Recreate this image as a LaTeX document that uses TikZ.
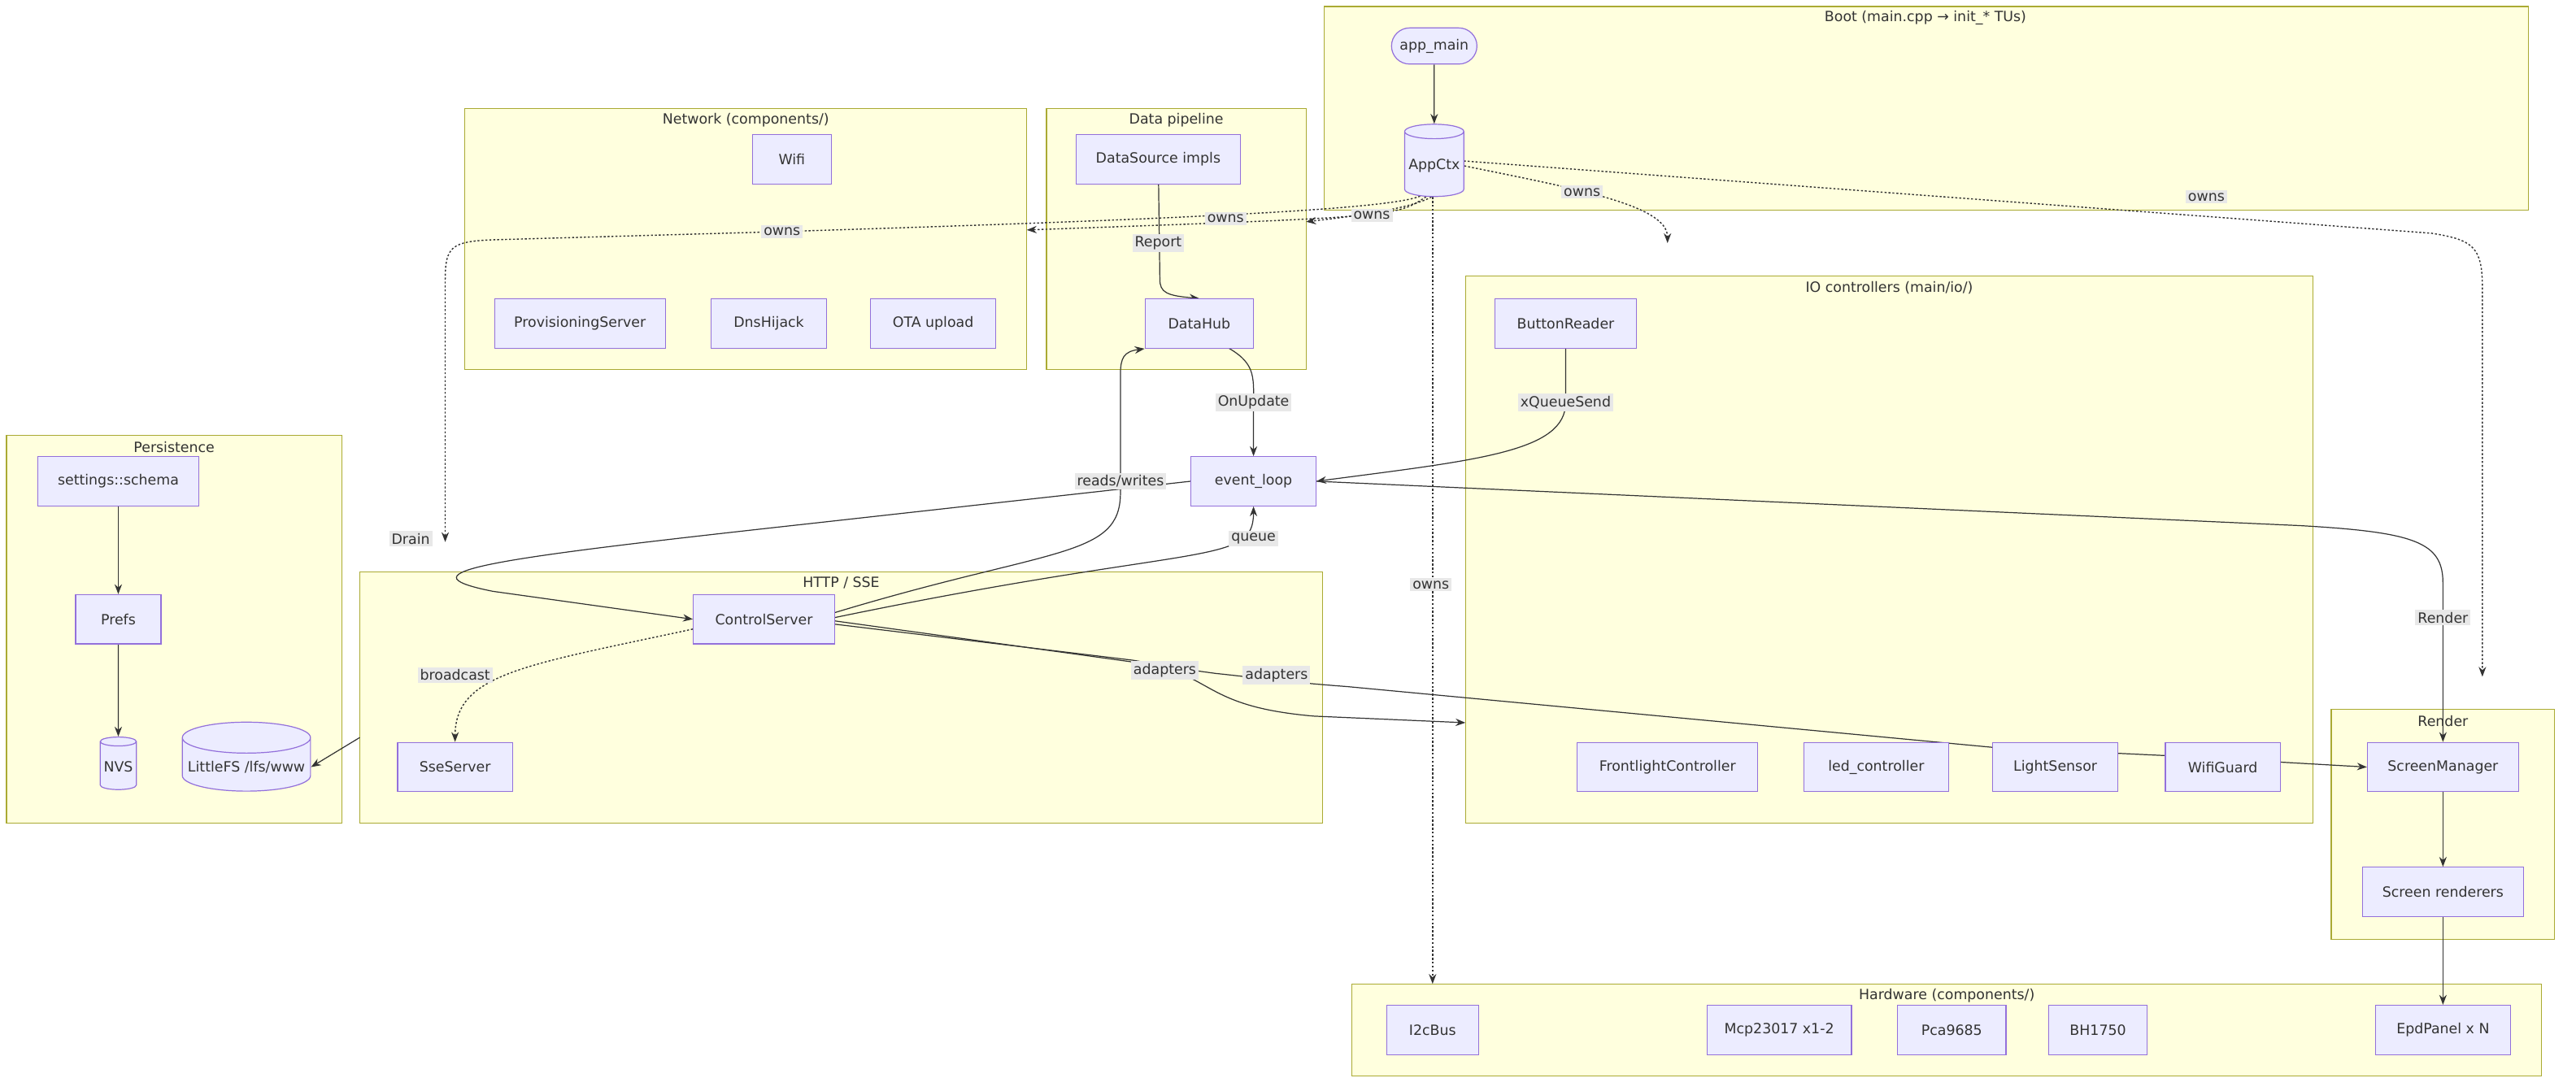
\documentclass[tikz,border=0pt]{standalone}
\usepackage{fontspec}
\setmainfont{DejaVu Sans}
\usetikzlibrary{shapes.geometric,arrows.meta}
\definecolor{nf}{HTML}{ECECFF}\definecolor{nd}{HTML}{9370DB}
\definecolor{cf}{HTML}{FFFFDE}\definecolor{cd}{HTML}{AAAA33}
\definecolor{lc}{HTML}{333333}\definecolor{lb}{HTML}{E8E8E8}
\pgfdeclarelayer{bg}\pgfdeclarelayer{fg}\pgfsetlayers{bg,main,fg}
\begin{document}
\begin{tikzpicture}[x=1pt,y=-1pt,font=\fontsize{8.6}{10}\selectfont,
 nd/.style={draw=nd,fill=nf,line width=0.6pt,minimum height=30pt,inner sep=2pt,text=lc},
 cyl/.style={nd,cylinder,shape border rotate=90,aspect=0.25,minimum height=0pt},
 cl/.style={draw=cd,fill=cf,line width=0.6pt},
 ct/.style={text=lc},
 lab/.style={fill=lb,text=lc,inner sep=1.5pt},
 e/.style={draw=lc,line width=0.6pt,-{Stealth[length=6pt,width=4.5pt]}},
 d/.style={e,dash pattern=on 1.2pt off 1.2pt,line width=0.7pt}]
\useasboundingbox (0,0) rectangle (1568,664);
\begin{pgfonlayer}{bg}
\draw[cl] (806,4) rectangle (1539,128); \node[ct] (tBoot) at (1172,11) {Boot (main.cpp → init\_* TUs)};
\draw[cl] (283,66) rectangle (625,225); \node[ct] (tNet) at (454,73) {Network (components/)};
\draw[cl] (637,66) rectangle (795,225); \node[ct] (tData) at (716,73) {Data pipeline};
\draw[cl] (892,168) rectangle (1408,501); \node[ct] (tIO) at (1150,175) {IO controllers (main/io/)};
\draw[cl] (4,265) rectangle (208,501); \node[ct] (tPer) at (106,272) {Persistence};
\draw[cl] (219,348) rectangle (805,501); \node[ct] (tHttp) at (512,355) {HTTP / SSE};
\draw[cl] (1419,432) rectangle (1555,572); \node[ct] (tRen) at (1487,439) {Render};
\draw[cl] (823,599) rectangle (1547,655); \node[ct] (tHw) at (1185,606) {Hardware (components/)};
\end{pgfonlayer}
\begin{pgfonlayer}{fg}
\node[nd,rounded corners=11pt,minimum height=22pt,minimum width=52pt] (app) at (873,28) {app\_main};
\node[cyl,minimum width=36pt,minimum height=44pt] (ctx) at (873,101) {AppCtx};
\node[nd,minimum width=48pt] (wifi) at (482,97) {Wifi};
\node[nd,minimum width=104pt] (prov) at (353,197) {ProvisioningServer};
\node[nd,minimum width=70pt] (dns) at (468,197) {DnsHijack};
\node[nd,minimum width=76pt] (ota) at (568,197) {OTA upload};
\node[nd,minimum width=100pt] (ds) at (705,97) {DataSource impls};
\node[nd,minimum width=66pt] (hub) at (730,197) {DataHub};
\node[nd,minimum width=86pt] (btn) at (953,197) {ButtonReader};
\node[nd,minimum width=110pt] (fl) at (1015,467) {FrontlightController};
\node[nd,minimum width=88pt] (led) at (1142,467) {led\_controller};
\node[nd,minimum width=76pt] (ls) at (1251,467) {LightSensor};
\node[nd,minimum width=70pt] (wg) at (1353,467) {WifiGuard};
\node[nd,minimum width=76pt] (ev) at (763,293) {event\_loop};
\node[nd,minimum width=98pt] (set) at (72,293) {settings::schema};
\node[nd,minimum width=52pt] (prefs) at (72,377) {Prefs};
\node[cyl,minimum width=22pt,minimum height=32pt] (nvs) at (72,467) {NVS};
\node[cyl,minimum width=78pt,minimum height=42pt] (lfs) at (150,467) {LittleFS /lfs/www};
\node[nd,minimum width=86pt] (cs) at (465,377) {ControlServer};
\node[nd,minimum width=70pt] (sse) at (277,467) {SseServer};
\node[nd,minimum width=92pt] (sm) at (1487,467) {ScreenManager};
\node[nd,minimum width=98pt] (sr) at (1487,543) {Screen renderers};
\node[nd,minimum width=56pt] (i2c) at (872,627) {I2cBus};
\node[nd,minimum width=88pt] (mcp) at (1083,627) {Mcp23017 x1-2};
\node[nd,minimum width=66pt] (pca) at (1188,627) {Pca9685};
\node[nd,minimum width=60pt] (bh) at (1277,627) {BH1750};
\node[nd,minimum width=82pt] (epd) at (1487,627) {EpdPanel x N};
\end{pgfonlayer}
\coordinate (netE) at (625,140); \coordinate (dataE) at (795,135);
\coordinate (httpT) at (271,330); \coordinate (ioT) at (1015,148);
\coordinate (renT) at (1511,412); \coordinate (ioW) at (892,440);
\coordinate (httpW) at (219,449);
% edges
\draw[e] (app) -- (ctx);
\draw[d] (ctx.255) .. controls (850,132) .. (netE);
\draw[d] (ctx.265) .. controls (862,125) and (840,130) .. (dataE);
\draw[d] (ctx.245) .. controls (845,128) and (700,134) .. (476,141) -- (300,146) .. controls (275,147) and (271,150) .. (271,170) -- (httpT);
\draw[d] (ctx.east) .. controls (960,115) and (1015,125) .. (ioT);
\draw[d] (891,98) -- (1480,142) .. controls (1505,146) and (1511,150) .. (1511,175) -- (renT);
\draw[d] (ctx.south) ++(-1,0) -- (872,599);
\draw[e] (ds) -- (706,170) .. controls (706,178) and (710,180) .. (hub.north);
\draw[e] (748,212) .. controls (765,222) and (763,230) .. (763,250) -- (ev.north);
\draw[e] (btn.south) -- (953,245) .. controls (953,275) and (900,280) .. (ev.east);
\draw[e] (ev.west) -- (500,318) .. controls (300,340) and (240,348) .. (300,360) -- (cs.west);
\draw[e] (508,373) .. controls (640,333) and (682,340) .. (682,300) -- (682,228) .. controls (682,218) and (684,214) .. (hub.south west);
\draw[e] (508,376) .. controls (730,330) and (763,345) .. (ev.south);
\draw[d] (cs.west) ++(0,6) .. controls (320,405) and (277,410) .. (sse.north);
\draw[e] (508,380) -- (690,402) .. controls (740,410) and (730,430) .. (800,436) -- (ioW);
\draw[e] (508,378) -- (740,410) .. controls (760,412) and (780,415) .. (820,418) -- (1213,455) -- (1318,460) -- (sm.west);
\draw[e] (ev.east) -- (1400,320) .. controls (1470,324) and (1487,330) .. (1487,355) -- (sm.north);
\draw[e] (set) -- (prefs); \draw[e] (prefs) -- (nvs);
\draw[e] (httpW) -- (lfs.east);
\draw[e] (sm) -- (sr); \draw[e] (sr) -- (epd);
% labels
\node[lab] (l1) at (746,133) {owns};
\node[lab] (l2) at (835,131) {owns};
\node[lab] (l3) at (476,141) {owns};
\node[lab] (l4) at (963,117) {owns};
\node[lab] (l5) at (1343,120) {owns};
\node[lab] (l6) at (871,356) {owns};
\node[lab] (l7) at (705,148) {Report};
\node[lab] (l8) at (763,245) {OnUpdate};
\node[lab] (l9) at (953,245) {xQueueSend};
\node[lab] (l10) at (682,293) {reads/writes};
\node[lab] (l11) at (250,328) {Drain};
\node[lab] (l12) at (763,328) {queue};
\node[lab] (l13) at (277,411) {broadcast};
\node[lab] (l14) at (709,408) {adapters};
\node[lab] (l15) at (777,411) {adapters};
\node[lab] (l16) at (1487,376) {Render};
\end{tikzpicture}
\end{document}
